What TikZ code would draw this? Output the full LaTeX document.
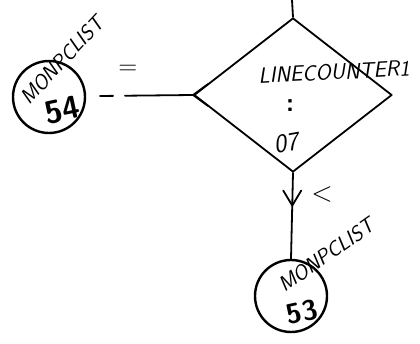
\documentclass[tikz,border=0pt]{standalone}
\usetikzlibrary{shapes.geometric,calc}
\begin{document}
\begin{tikzpicture}[x=1pt,y=-1pt,line width=1.8pt,line cap=round,line join=round,
  hand/.style={font=\sffamily\itshape, inner sep=0pt},
  conn/.style={draw,circle,minimum size=72pt,inner sep=0pt,line width=2.4pt}]
\useasboundingbox (0,0) rectangle (420,344);
\coordinate (top) at (292,0);
\node[draw,diamond,minimum width=198pt,minimum height=154pt,shape aspect=1.29,inner sep=0pt] (dec) at (293,95) {};
\node[conn] (c54) at (49,97) {};
\node[conn] (c53) at (291,296) {};
\coordinate (s54) at (100,96);
% connectors
\draw (top) -- (dec.north);
\draw[dash pattern=on 13pt off 12pt on 300pt] (s54) -- (dec.west);
\draw (dec.west) ++(15,-11) -- (dec.west) -- ++(15,11);
\draw (dec.south) -- (c53.north);
\path (dec.south) -- (c53.north) coordinate[pos=0.38] (m);
\draw (m) ++(-9,-15) -- (m) -- ++(9,-15);
% labels
\node[hand,font=\sffamily\fontsize{26}{26}\selectfont] (eq) at (128,70) {=};
\node[hand,font=\sffamily\fontsize{28}{28}\selectfont] (lt) at (322,195) {<};
\node[hand,font=\sffamily\itshape\fontsize{21}{21}\selectfont,rotate=47] (t54) at (62,60) {MONPCLIST};
\node[hand,font=\sffamily\bfseries\fontsize{32}{32}\selectfont,rotate=12] (n54) at (62,110) {54};
\node[hand,font=\sffamily\itshape\fontsize{21}{21}\selectfont,rotate=35] (t53) at (326,255) {MONPCLIST};
\node[hand,font=\sffamily\bfseries\fontsize{28}{28}\selectfont,rotate=12] (n53) at (302,312) {53};
\node[hand,font=\sffamily\itshape\fontsize{22}{22}\selectfont,rotate=3] (lc) at (334,72) {LINECOUNTER1};
\node[hand,font=\sffamily\bfseries\fontsize{26}{26}\selectfont] (col) at (290,106) {:};
\node[hand,font=\sffamily\itshape\fontsize{26}{26}\selectfont,rotate=10] (o7) at (286,143) {07};
\end{tikzpicture}
\end{document}
